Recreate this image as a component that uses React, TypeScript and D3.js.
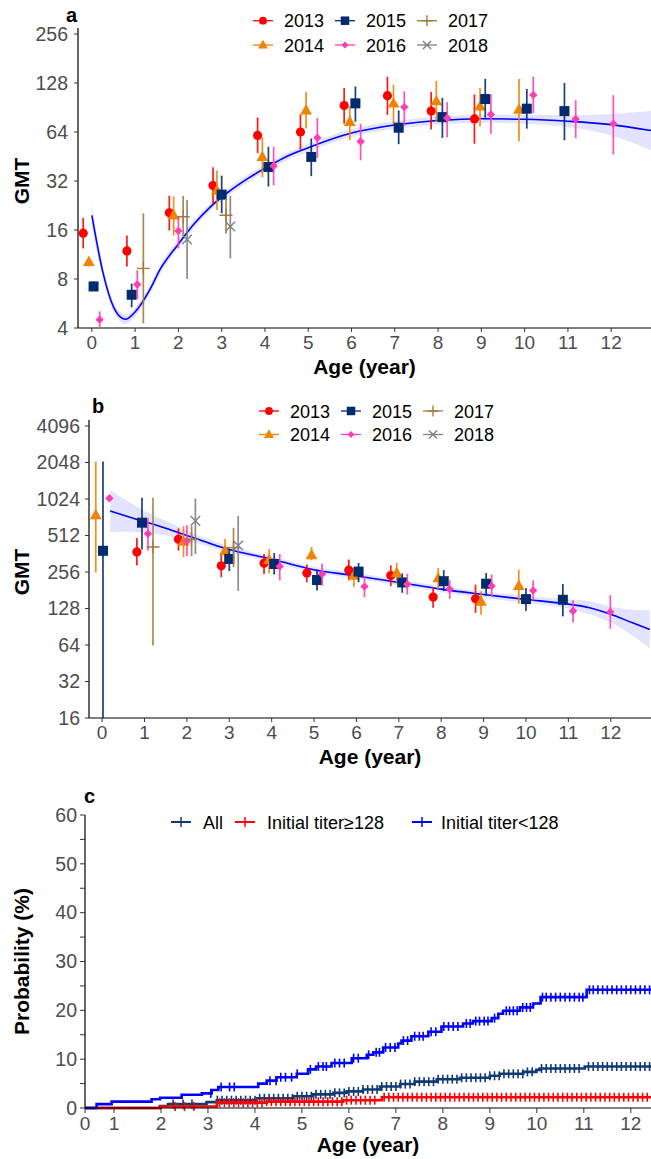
import React from 'react';
import * as d3 from 'd3';

const W = 651;
const H = 1159;
const FONT = '"Liberation Sans", Arial, Helvetica, sans-serif';
const TICK_COLOR = '#4D4D4D';

// ---------------- shared legend data ----------------
const years = ['2013', '2014', '2015', '2016', '2017', '2018'];
const yearColors = ['#FF0000', '#F08300', '#002B6E', '#FF3DB5', '#A47A3C', '#808080'];
const yearShapes = ['circle', 'triangle', 'square', 'diamond', 'plus', 'cross'];

// ---------------- panel a: [age, GMT, lower, upper] ----------------
const a2013 = [
  [-0.2, 15.3, 12.4, 18.9], [0.81, 11.9, 9.6, 14.7], [1.79, 20.4, 16.0, 25.8], [2.8, 30, 23.3, 38.6],
  [3.83, 61, 47.8, 78], [4.82, 64, 50.2, 81.6], [5.83, 93, 72.5, 118.6], [6.83, 107, 82.1, 139],
  [7.84, 86, 66.7, 112], [8.84, 77, 54.6, 108],
];
const a2014 = [
  [-0.07, 10.2, 9.6, 10.9], [1.89, 19.7, 14.9, 25.5], [2.89, 28, 21.3, 36.8], [3.94, 45, 34, 59],
  [4.95, 87, 67.7, 112], [5.96, 74, 57.3, 91.8], [6.97, 96, 72.5, 124], [7.96, 99, 75, 131],
  [8.97, 92, 70, 118.6], [9.87, 88, 56.6, 135],
];
const a2015 = [
  [0.04, 7.2, 6.8, 7.7], [0.92, 6.4, 5.4, 7.45], [3.0, 26.4, 20.4, 34.3], [4.08, 39, 29.8, 51.6],
  [5.07, 45, 34.5, 58], [6.09, 96, 74.5, 121], [7.09, 68, 54.2, 86.2], [8.1, 79, 59.3, 103],
  [9.09, 102, 78.8, 135], [10.05, 89, 67.5, 117], [10.92, 86, 57.3, 127],
];
const a2016 = [
  [0.18, 4.5, 4.08, 5.03], [1.05, 7.4, 6.06, 9.0], [2.0, 15.8, 12.4, 19.3], [4.2, 39.6, 30.3, 51.6],
  [5.21, 59, 44.6, 77.7], [6.21, 56, 43.1, 71.5], [7.22, 91, 70.5, 113], [8.21, 78, 59.7, 97],
  [9.22, 82, 62.7, 108], [10.2, 108, 83.9, 139], [11.18, 77, 58.9, 99.7], [12.05, 72, 46.8, 107],
];
const a2017 = [[1.19, 9.3, 4.3, 20.1], [2.11, 19.3, 15.1, 25.8], [3.1, 19.7, 15.3, 24.8]];
const a2018 = [[2.2, 14, 8.07, 24.3], [3.2, 16.8, 10.8, 25.8]];
const seriesA = [a2013, a2014, a2015, a2016, a2017, a2018];

// fitted curve of panel a: age, fit, lower, upper
const fitAgeA = [0, 0.26, 0.5, 0.7, 0.78, 1.04, 1.35, 1.58, 1.97, 2.36, 2.74, 3.13, 3.6, 4.08, 4.5, 5.0, 6.0, 6.8, 7.55, 8.33, 9.0, 10.0, 11.0, 12.0, 12.92];
const fitA = [19.7, 8.69, 5.39, 4.59, 4.53, 5.17, 6.96, 9.19, 12.8, 17.4, 22.2, 27.1, 33.1, 39.4, 45.3, 51.3, 63.1, 69.5, 73.5, 76.1, 77.2, 76.6, 74.5, 71.0, 65.3];
const fitLoA = [16.9, 7.94, 5.03, 4.29, 4.23, 4.86, 6.54, 8.63, 12.04, 16.4, 21.0, 25.6, 31.3, 37.3, 42.8, 48.5, 59.7, 65.8, 69.5, 72.0, 73.0, 72.0, 68.6, 61.0, 49.5];
const fitHiA = [22.9, 9.51, 5.78, 4.92, 4.86, 5.5, 7.41, 9.78, 13.64, 18.4, 23.4, 28.6, 35.0, 41.6, 47.8, 54.2, 66.7, 73.5, 77.7, 80.4, 81.6, 81.6, 81.0, 82.7, 86.2];

const ticksA = [4, 8, 16, 32, 64, 128, 256];

// ---------------- panel b ----------------
const b2013 = [
  [0.82, 375, 292, 484], [1.8, 477, 388, 580], [2.81, 288, 234, 355], [3.82, 302, 249, 357],
  [4.83, 251, 212, 292], [5.82, 265, 220, 322], [6.81, 239, 197, 288], [7.81, 159, 131, 191],
  [8.81, 154, 119, 199],
];
const b2014 = [
  [-0.15, 755, 256, 2070], [1.92, 456, 342, 605], [2.9, 383, 308, 477], [3.94, 322, 252, 393],
  [4.94, 354, 322, 407], [5.94, 239, 194, 274], [6.95, 252, 207, 302], [7.93, 228, 187, 274],
  [8.94, 146, 115, 176], [9.83, 197, 141, 265],
];
const b2015 = [
  [0.02, 383, 4, 2070], [0.94, 653, 396, 1038], [3.0, 328, 263, 393], [4.06, 298, 246, 364],
  [5.07, 220, 182, 265], [6.05, 258, 212, 302], [7.08, 210, 174, 247], [8.06, 215, 180, 263],
  [9.06, 205, 165, 249], [10.0, 153, 123, 187], [10.87, 151, 111, 202],
];
const b2016 = [
  [0.17, 1040, 1000, 1080], [1.08, 530, 388, 709], [2.0, 461, 349, 617], [4.19, 284, 220, 357],
  [5.19, 246, 199, 298], [6.19, 194, 160, 234], [7.2, 203, 168, 246], [8.2, 185, 155, 217],
  [9.19, 196, 162, 242], [10.17, 180, 150, 217], [11.11, 122, 99, 148], [11.99, 120, 88, 163],
];
const b2017 = [[1.2, 411, 64, 1038], [2.11, 477, 349, 605], [3.1, 407, 284, 588]];
const b2018 = [[2.2, 676, 364, 1024], [3.21, 423, 180, 734]];
const seriesB = [b2013, b2014, b2015, b2016, b2017, b2018];

const fitAgeB = [0.19, 0.6, 1.0, 1.5, 2.0, 2.5, 3.0, 3.5, 4.0, 4.5, 5.06, 5.85, 6.63, 7.42, 8.0, 9.0, 10.0, 10.87, 11.5, 12.0, 12.5, 12.92];
const fitB = [815, 734, 666, 588, 512, 446, 393, 357, 326, 294, 265, 242, 220, 199, 185, 167, 152, 141, 130, 115, 98, 86];
const fitLoB = [545, 549, 541, 512, 468, 416, 370, 338, 309, 278, 251, 229, 208, 189, 175, 156, 142, 130, 115, 98, 77, 60];
const fitHiB = [1218, 982, 820, 676, 560, 478, 419, 377, 345, 311, 280, 256, 232, 211, 195, 177, 163, 153, 147, 133, 125, 124];

const ticksB = [16, 32, 64, 128, 256, 512, 1024, 2048, 4096];
const ageTicks = [0, 1, 2, 3, 4, 5, 6, 7, 8, 9, 10, 11, 12];

// ---------------- panel c ----------------
const groups = ['All', 'Initial titer≥128', 'Initial titer<128'];
const groupColors = ['#0F3A75', '#FF0000', '#0000FF'];

const timeAll = [0.383, 1.98, 2.15, 2.97, 3.19, 4.04, 4.81, 5.24, 5.67, 5.95, 6.3, 6.66, 7.09, 7.4, 7.87, 8.36, 9.0, 9.21, 9.71, 9.99, 10.06, 11.02, 12.43];
const probAll = [0, 0.4, 0.8, 1.2, 1.6, 2.0, 2.4, 2.8, 3.1, 3.4, 3.8, 4.4, 4.9, 5.4, 5.9, 6.2, 6.6, 7.0, 7.4, 7.8, 8.1, 8.5, 8.5];
const timeHigh = [0.383, 1.98, 3.19, 4.25, 5.88, 6.7, 12.43];
const probHigh = [0, 0.3, 1.1, 1.3, 1.6, 2.2, 2.2];
const timeLow = [0.383, 0.63, 0.95, 1.8, 1.98, 2.44, 2.87, 3.08, 3.22, 4.07, 4.25, 4.46, 4.89, 5.13, 5.3, 5.63, 6.06, 6.38, 6.52, 6.73, 7.05, 7.12, 7.33, 7.69, 7.97, 8.43, 8.64, 9.04, 9.18, 9.28, 9.64, 9.92, 10.08, 11.06, 12.43];
const probLow = [0, 0.8, 1.3, 1.8, 2.1, 2.7, 3.0, 3.7, 4.3, 5.0, 5.6, 6.3, 7.0, 7.9, 8.5, 9.2, 10.2, 10.9, 11.4, 12.4, 13.2, 13.8, 14.7, 15.6, 16.7, 17.3, 17.8, 18.4, 19.3, 19.9, 20.6, 21.4, 22.7, 24.2, 24.2];

const censorAll = [2.26, 2.47, 2.66, 3.2, 3.3, 3.4, 3.5, 3.6, 3.7, 3.8, 3.9, 4.0, 4.1, 4.2, 4.3, 4.4, 4.5, 4.6, 4.7, 4.8, 4.9, 5.0, 5.1, 5.2, 5.3, 5.4, 5.5, 5.6, 5.7, 5.8, 5.9, 6.0, 6.1, 6.2, 6.3, 6.4, 6.5, 6.6, 6.7, 6.8, 6.9, 7.0, 7.1, 7.2, 7.3, 7.4, 7.5, 7.6, 7.7, 7.8, 7.9, 8.0, 8.1, 8.2, 8.3, 8.4, 8.5, 8.6, 8.7, 8.8, 8.9, 9.0, 9.1, 9.2, 9.3, 9.4, 9.5, 9.6, 9.7, 9.8, 9.9, 10.1, 10.2, 10.3, 10.4, 10.5, 10.6, 10.7, 10.8, 10.9, 11.1, 11.2, 11.3, 11.4, 11.5, 11.6, 11.7, 11.8, 11.9, 12.0, 12.1, 12.2, 12.3, 12.4];
const censorHigh = [2.3, 2.5, 2.7, 3.25, 3.35, 3.45, 3.55, 3.65, 3.75, 3.85, 3.95, 4.05, 4.15, 4.25, 4.35, 4.45, 4.55, 4.65, 4.75, 4.85, 4.95, 5.05, 5.15, 5.25, 5.35, 5.45, 5.55, 5.65, 5.75, 5.85, 5.95, 6.05, 6.15, 6.25, 6.35, 6.45, 6.55, 6.75, 6.85, 6.95, 7.05, 7.15, 7.25, 7.35, 7.45, 7.55, 7.65, 7.75, 7.85, 7.95, 8.05, 8.15, 8.25, 8.35, 8.45, 8.55, 8.65, 8.75, 8.85, 8.95, 9.05, 9.15, 9.25, 9.35, 9.45, 9.55, 9.65, 9.75, 9.85, 9.95, 10.05, 10.15, 10.25, 10.35, 10.45, 10.55, 10.65, 10.75, 10.85, 10.95, 11.05, 11.15, 11.25, 11.35, 11.45, 11.55, 11.65, 11.75, 11.85, 11.95, 12.05, 12.15, 12.25, 12.35];
const censorLow = [3.06, 3.28, 3.46, 3.56, 4.32, 4.45, 4.55, 4.65, 4.78, 4.9, 5.18, 5.35, 5.45, 5.52, 5.7, 5.8, 5.9, 6.1, 6.2, 6.42, 6.58, 6.65, 6.78, 6.88, 6.98, 7.16, 7.25, 7.4, 7.5, 7.58, 7.75, 7.85, 8.02, 8.12, 8.22, 8.32, 8.5, 8.58, 8.7, 8.78, 8.88, 8.96, 9.1, 9.35, 9.42, 9.5, 9.58, 9.7, 9.78, 9.86, 10.12, 10.2, 10.3, 10.4, 10.5, 10.6, 10.7, 10.8, 10.9, 10.98, 11.12, 11.2, 11.3, 11.4, 11.5, 11.6, 11.7, 11.8, 11.9, 12.0, 12.1, 12.2, 12.3, 12.4];

const stepTimes = [timeAll, timeHigh, timeLow];
const stepProbs = [probAll, probHigh, probLow];
const censors = [censorAll, censorHigh, censorLow];

const cTickAges = [0.383, 1, 2, 3, 4, 5, 6, 7, 8, 9, 10, 11, 12];
const cTickLabels = ['0', '1', '2', '3', '4', '5', '6', '7', '8', '9', '10', '11', '12'];
const cYTicks = [0, 5, 10, 15, 20, 25, 30, 35, 40, 45, 50, 55, 60];
const cYLabels = [0, 10, 20, 30, 40, 50, 60];

// ---------------- helpers ----------------
function Marker({ shape, x, y, color, s = 1 }: any) {
  switch (shape) {
    case 'circle':
      return <circle cx={x} cy={y} r={4.6 * s} fill={color} />;
    case 'triangle':
      return <path d={`M${x},${y - 6.2 * s}L${x + 5.9 * s},${y + 4.2 * s}L${x - 5.9 * s},${y + 4.2 * s}Z`} fill={color} />;
    case 'square':
      return <rect x={x - 5 * s} y={y - 5 * s} width={10 * s} height={10 * s} fill={color} />;
    case 'diamond':
      return <path d={`M${x},${y - 4.2 * s}L${x + 4.2 * s},${y}L${x},${y + 4.2 * s}L${x - 4.2 * s},${y}Z`} fill={color} />;
    case 'plus':
      return <path d={`M${x - 6.5 * s},${y}H${x + 6.5 * s}M${x},${y - 6.5 * s}V${y + 6.5 * s}`} stroke={color} strokeWidth={1.4} />;
    case 'cross':
      return <path d={`M${x - 4.8 * s},${y - 4.8 * s}L${x + 4.8 * s},${y + 4.8 * s}M${x + 4.8 * s},${y - 4.8 * s}L${x - 4.8 * s},${y + 4.8 * s}`} stroke={color} strokeWidth={1.4} />;
    default:
      return null;
  }
}

function YearLegend({ x0, y0, dy }: any) {
  const colX = [0, 82, 164];
  return (
    <g>
      {years.map((yr, i) => {
        const col = Math.floor(i / 2);
        const row = i % 2;
        const kx = x0 + colX[col];
        const ky = y0 + row * dy;
        return (
          <g key={yr}>
            <line x1={kx - 10} x2={kx + 10} y1={ky} y2={ky} stroke={yearColors[i]} strokeWidth={1.3} />
            <Marker shape={yearShapes[i]} x={kx} y={ky} color={yearColors[i]} s={0.85} />
            <text x={kx + 21} y={ky + 6.5} fontSize={18} fill="#000" fontFamily={FONT}>{yr}</text>
          </g>
        );
      })}
    </g>
  );
}

function ScatterPanel({ id, series, fitAge, fit, fitLo, fitHi, x, y, yTicks, top, bottom, left, labelGap, legend }: any) {
  const line = d3.line<number>().x((_, i) => x(fitAge[i])).y((d) => y(d)).curve(d3.curveMonotoneX);
  const area = d3.area<number>()
    .x((_, i) => x(fitAge[i]))
    .y0((_, i) => y(fitLo[i]))
    .y1((_, i) => y(fitHi[i]))
    .curve(d3.curveMonotoneX);
  const cx = (left + W) / 2;
  return (
    <g>
      <defs>
        <clipPath id={`clip-${id}`}>
          <rect x={left} y={top - 10} width={W - left} height={bottom - top + 10} />
        </clipPath>
      </defs>
      <g clipPath={`url(#clip-${id})`}>
        <path d={area(fitLo) || ''} fill="#0000FF" fillOpacity={0.11} stroke="none" />
        <path d={line(fit) || ''} fill="none" stroke="#0000FF" strokeWidth={1.6} />
        {series.map((pts: number[][], si: number) => (
          <g key={si}>
            {pts.map((p, pi) => {
              const px = x(p[0]);
              return (
                <g key={pi}>
                  <line x1={px} x2={px} y1={y(p[2])} y2={y(p[3])} stroke={yearColors[si]} strokeWidth={1.7} strokeOpacity={0.9} />
                  <line x1={px - 1} x2={px + 1} y1={y(p[2])} y2={y(p[2])} stroke={yearColors[si]} strokeWidth={1} strokeOpacity={0.6} />
                  <line x1={px - 1} x2={px + 1} y1={y(p[3])} y2={y(p[3])} stroke={yearColors[si]} strokeWidth={1} strokeOpacity={0.6} />
                  <Marker shape={yearShapes[si]} x={px} y={y(p[1])} color={yearColors[si]} />
                </g>
              );
            })}
          </g>
        ))}
      </g>
      {/* axes */}
      <line x1={left} x2={left} y1={top - 6} y2={bottom} stroke="#000" strokeWidth={1.2} />
      <line x1={left} x2={W} y1={bottom} y2={bottom} stroke="#000" strokeWidth={1.2} />
      {yTicks.map((t: number) => (
        <g key={t}>
          <line x1={left - 4} x2={left} y1={y(t)} y2={y(t)} stroke="#333" strokeWidth={1} />
          <text x={left - labelGap} y={y(t) + 6.8} textAnchor="end" fontSize={19.5} fill={TICK_COLOR} fontFamily={FONT}>{t}</text>
        </g>
      ))}
      {ageTicks.map((t) => (
        <g key={t}>
          <line x1={x(t)} x2={x(t)} y1={bottom} y2={bottom + 4} stroke="#333" strokeWidth={1} />
          <text x={x(t)} y={bottom + 21} textAnchor="middle" fontSize={19} fill={TICK_COLOR} fontFamily={FONT}>{t}</text>
        </g>
      ))}
      <text x={cx} y={bottom + 46} textAnchor="middle" fontSize={21} fontWeight="bold" fontFamily={FONT}>Age (year)</text>
      <text transform={`translate(29,${(top + bottom) / 2}) rotate(-90)`} textAnchor="middle" fontSize={21} fontWeight="bold" fontFamily={FONT}>GMT</text>
      {legend}
    </g>
  );
}

export default function App() {
  // panel a
  const xA = d3.scaleLinear().domain([-0.32, 12.92]).range([78, 651]);
  const yA = d3.scaleLog().base(2).domain([4, 256]).range([328, 34]);
  // panel b
  const xB = d3.scaleLinear().domain([-0.31, 12.95]).range([89, 651]);
  const yB = d3.scaleLog().base(2).domain([16, 4096]).range([718, 426]);
  // panel c
  const xC = d3.scaleLinear().domain([0.383, 12.43]).range([85, 651]);
  const yC = d3.scaleLinear().domain([0, 60]).range([1108, 815]);

  const stepLine = d3.line<[number, number]>().x((d) => xC(d[0])).y((d) => yC(d[1])).curve(d3.curveStepAfter);
  const valueAt = (times: number[], probs: number[], t: number) => {
    const i = d3.bisectRight(times, t) - 1;
    return probs[Math.max(0, Math.min(i, probs.length - 1))];
  };

  const legendC = [
    { kx: 181, tx: 203 },
    { kx: 245, tx: 267 },
    { kx: 422, tx: 441 },
  ];

  return (
    <svg width={W} height={H} viewBox={`0 0 ${W} ${H}`} style={{ position: 'absolute', left: 0, top: 0, background: '#fff' }} fontFamily={FONT}>
      <rect x={0} y={0} width={W} height={H} fill="#fff" />
      {/* ---------- a ---------- */}
      <text x={66} y={22} fontSize={20} fontWeight="bold" fontFamily={FONT}>a</text>
      <ScatterPanel id="a" series={seriesA} fitAge={fitAgeA} fit={fitA} fitLo={fitLoA} fitHi={fitHiA}
        x={xA} y={yA} yTicks={ticksA} top={34} bottom={328} left={78} labelGap={10}
        legend={<YearLegend x0={263} y0={20.7} dy={24.3} />} />
      {/* ---------- b ---------- */}
      <text x={92} y={413} fontSize={20} fontWeight="bold" fontFamily={FONT}>b</text>
      <ScatterPanel id="b" series={seriesB} fitAge={fitAgeB} fit={fitB} fitLo={fitLoB} fitHi={fitHiB}
        x={xB} y={yB} yTicks={ticksB} top={426} bottom={718} left={89} labelGap={9}
        legend={<YearLegend x0={269} y0={411} dy={23.5} />} />
      {/* ---------- c ---------- */}
      <text x={84} y={803} fontSize={20} fontWeight="bold" fontFamily={FONT}>c</text>
      <g>
        {groups.map((g, gi) => {
          const pts: [number, number][] = stepTimes[gi].map((t, i) => [t, stepProbs[gi][i]] as [number, number]);
          return (
            <g key={g}>
              <path d={stepLine(pts) || ''} fill="none" stroke={groupColors[gi]} strokeWidth={2.6} />
              {censors[gi].map((t, ci) => {
                const px = xC(t);
                const py = yC(valueAt(stepTimes[gi], stepProbs[gi], t));
                return <line key={ci} x1={px} x2={px} y1={py - 4.5} y2={py + 4.5} stroke={groupColors[gi]} strokeWidth={1.6} />;
              })}
            </g>
          );
        })}
      </g>
      <line x1={85} x2={85} y1={815} y2={1108} stroke="#000" strokeWidth={1.2} />
      <line x1={85} x2={W} y1={1108} y2={1108} stroke="#000" strokeWidth={1.2} />
      {cYTicks.map((t) => (
        <line key={t} x1={80} x2={85} y1={yC(t)} y2={yC(t)} stroke="#333" strokeWidth={1} />
      ))}
      {cYLabels.map((t) => (
        <text key={t} x={77} y={yC(t) + 6.8} textAnchor="end" fontSize={19.5} fill={TICK_COLOR} fontFamily={FONT}>{t}</text>
      ))}
      {cTickAges.map((t, i) => (
        <g key={i}>
          <line x1={xC(t)} x2={xC(t)} y1={1108} y2={1113} stroke="#333" strokeWidth={1} />
          <text x={xC(t)} y={1130} textAnchor="middle" fontSize={19} fill={TICK_COLOR} fontFamily={FONT}>{cTickLabels[i]}</text>
        </g>
      ))}
      <text x={(85 + W) / 2} y={1152} textAnchor="middle" fontSize={21} fontWeight="bold" fontFamily={FONT}>Age (year)</text>
      <text transform={`translate(29,${(815 + 1108) / 2}) rotate(-90)`} textAnchor="middle" fontSize={21} fontWeight="bold" fontFamily={FONT}>Probability (%)</text>
      {groups.map((g, gi) => (
        <g key={g}>
          <line x1={legendC[gi].kx - 10} x2={legendC[gi].kx + 10} y1={822} y2={822} stroke={groupColors[gi]} strokeWidth={2} />
          <line x1={legendC[gi].kx} x2={legendC[gi].kx} y1={817} y2={827} stroke={groupColors[gi]} strokeWidth={1.5} />
          <text x={legendC[gi].tx} y={828.5} fontSize={18} fontFamily={FONT}>{g}</text>
        </g>
      ))}
    </svg>
  );
}
